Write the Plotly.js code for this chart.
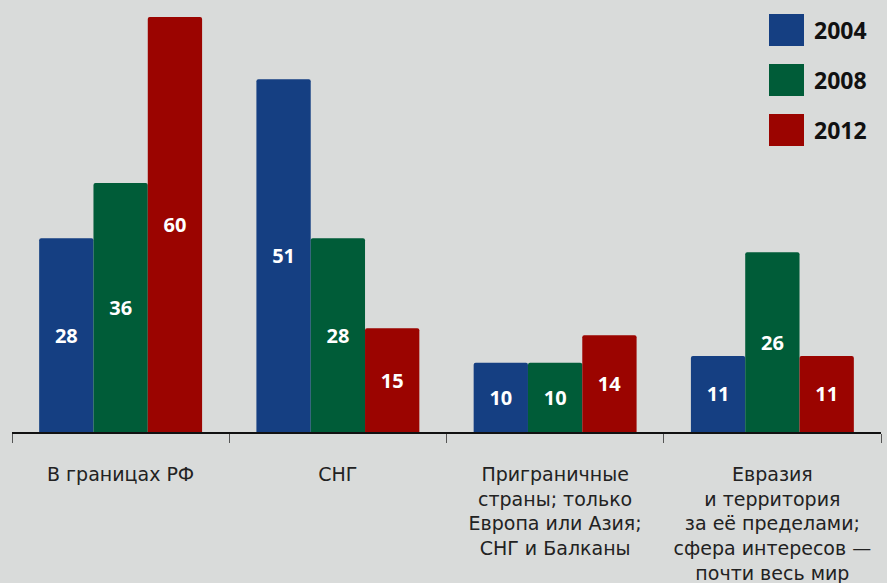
<!DOCTYPE html>
<html><head><meta charset="utf-8">
<script src="https://cdn.plot.ly/plotly-3.0.1.min.js"></script>
<style>html,body{margin:0;padding:0;background:#d9dbda;}</style>
</head><body><div id="chart" style="width:887px;height:583px;"></div>
<script>
const categories = ["В границах РФ", "СНГ", "Приграничные<br>страны; только<br>Европа или Азия;<br>СНГ и Балканы", "Евразия<br>и территория<br>за её пределами;<br>сфера интересов —<br>почти весь мир"];
const seriesNames = ["2004", "2008", "2012"];
const values2004 = [28, 51, 10, 11];
const values2008 = [36, 28, 10, 26];
const values2012 = [60, 15, 14, 11];
const colors = ["#153f82", "#005c38", "#9b0400"];

const allValues = [values2004, values2008, values2012];
const traces = allValues.map((v, i) => ({
  type: "bar",
  x: categories,
  y: v,
  name: seriesNames[i],
  marker: {color: colors[i], cornerradius: 2},
  text: v.map(String),
  textposition: "inside",
  insidetextanchor: "middle",
  textangle: 0,
  textfont: {family: "Noto Sans", size: 20, color: "#ffffff", weight: "bold"},
  hoverinfo: "none",
  cliponaxis: false
}));

const shapes = [];
const annotations = [];
const legY = [30, 80, 130];
seriesNames.forEach((n, i) => {
  shapes.push({type: "rect", xref: "paper", yref: "paper",
    x0: (769 - 12) / 869, x1: (804 - 12) / 869,
    y0: (432 - (legY[i] + 16)) / 415, y1: (432 - (legY[i] - 16)) / 415,
    fillcolor: colors[i], line: {width: 0}});
  annotations.push({xref: "paper", yref: "paper", x: (812 - 12) / 869, y: (432 - legY[i]) / 415,
    xanchor: "left", yanchor: "middle", text: "<b>" + n + "</b>", showarrow: false,
    font: {family: "Noto Sans", size: 23, color: "#111"}});
});

const layout = {
  width: 887, height: 583,
  paper_bgcolor: "#d9dbda", plot_bgcolor: "#d9dbda",
  margin: {l: 12, r: 6, t: 17, b: 151},
  showlegend: false,
  barmode: "group",
  bargap: 0.25,
  bargroupgap: 0,
  xaxis: {
    type: "category", range: [-0.5, 3.5],
    showline: true, linecolor: "#111", linewidth: 2,
    ticks: "outside", tickson: "boundaries", ticklen: 9, tickcolor: "#555", tickwidth: 1,
    ticklabelstandoff: 24,
    tickfont: {family: "DejaVu Sans", size: 19, color: "#222"},
    showgrid: false, zeroline: false, fixedrange: true
  },
  yaxis: {range: [0, 60], visible: false, showgrid: false, zeroline: false, fixedrange: true},
  shapes: shapes,
  annotations: annotations,
  uniformtext: {mode: false}
};

Plotly.newPlot("chart", traces, layout, {displayModeBar: false, staticPlot: true});
</script></body></html>
